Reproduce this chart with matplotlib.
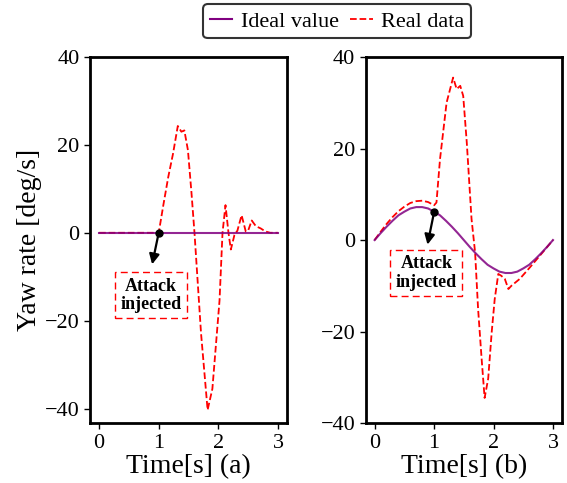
import matplotlib
matplotlib.use('Agg')
import matplotlib.pyplot as plt
from matplotlib.lines import Line2D

plt.rcParams['font.family'] = ['Liberation Serif', 'DejaVu Serif']
plt.rcParams['axes.linewidth'] = 2

# (a) constant reference, attack at t=1 s
a_t_ideal = [0, 3]
a_ideal = [0, 0]
a_t_real = [0, 1.0, 1.08, 1.16, 1.24, 1.32, 1.38, 1.43, 1.49, 1.55, 1.6, 1.71, 1.82, 1.9,
            2.02, 2.07, 2.12, 2.17, 2.21, 2.27, 2.32, 2.39, 2.46, 2.5, 2.56, 2.63, 2.71,
            2.79, 2.87, 3.0]
a_real = [0, 0, 6.5, 12.7, 18.0, 24.3, 23.0, 23.3, 18.8, 9.0, 0, -22.9, -40.3, -35.5,
          -15.4, 0, 6.3, 0, -3.8, -0.5, 0.5, 4.0, 0.3, 0.5, 2.8, 1.5, 1.0, 0.3, 0, 0]

# (b) sinusoidal reference
b_t_ideal = [0, 0.1, 0.2, 0.3, 0.4, 0.5, 0.6, 0.7, 0.8, 0.9, 1.0, 1.1, 1.2, 1.3, 1.4, 1.5,
             1.6, 1.7, 1.8, 1.9, 2.0, 2.1, 2.2, 2.3, 2.4, 2.5, 2.6, 2.7, 2.8, 2.9, 3.0]
b_ideal = [0, 1.5, 2.9, 4.2, 5.4, 6.2, 6.9, 7.2, 7.2, 6.9, 6.2, 5.4, 4.2, 2.9, 1.5, 0,
           -1.5, -2.9, -4.2, -5.4, -6.2, -6.9, -7.2, -7.2, -6.9, -6.2, -5.4, -4.2, -2.9,
           -1.5, 0]
b_t_real = [0, 0.1, 0.2, 0.3, 0.4, 0.5, 0.6, 0.7, 0.8, 0.9, 1.0, 1.04, 1.1, 1.21, 1.32,
            1.38, 1.44, 1.49, 1.55, 1.63, 1.69, 1.74, 1.80, 1.85, 1.91, 1.97, 2.02, 2.08,
            2.13, 2.19, 2.25, 2.30, 2.44, 2.61, 2.78, 3.0]
b_real = [0, 1.8, 3.5, 5.0, 6.3, 7.3, 8.1, 8.5, 8.6, 8.3, 7.6, 8.2, 17.7, 30.0, 35.5,
          33.0, 33.7, 31.5, 21.3, 4.6, -2.7, -15.0, -26.0, -34.5, -30.3, -20.0, -12.9,
          -7.4, -7.8, -8.5, -10.7, -10.0, -8.5, -6.0, -3.4, 0]

# annotation: (attack point, arrow end, text centre)
a_note = [(1.0, 0.0), (0.88, -7.8), (0.87, -14.2)]
b_note = [(1.0, 6.1), (0.88, -1.6), (0.87, -7.2)]

ideal_c = 'purple'
real_c = 'red'


def draw_panel(ax, t_i, y_i, t_r, y_r, note, xlab, ylim):
    ax.plot(t_r, y_r, color=real_c, ls='--', lw=1.3, zorder=2)
    ax.plot(t_i, y_i, color=ideal_c, lw=1.5, alpha=0.85, zorder=3)
    ax.plot(*note[0], 'o', color='k', ms=5, zorder=4)
    ax.annotate('', xy=note[1], xytext=note[0],
                arrowprops=dict(arrowstyle='-|>', color='k', lw=1.6, mutation_scale=15))
    ax.text(note[2][0], note[2][1], 'Attack\ninjected', ha='center', va='center',
            fontsize=13, fontweight='bold', linespacing=1.1,
            bbox=dict(boxstyle='square,pad=0.3', fc='white', ec=real_c,
                      ls=(0, (5, 3)), lw=1))
    ax.set_ylim(ylim)
    ax.set_yticks([-40, -20, 0, 20, 40])
    ax.set_xticks([0, 1, 2, 3])
    ax.tick_params(labelsize=16, width=1, length=4)
    ax.set_xlabel(xlab, fontsize=20, labelpad=1)


fig = plt.figure(figsize=(5.67, 4.83), dpi=100)
ax1 = fig.add_axes([0.159, 0.124, 0.347, 0.758])
ax2 = fig.add_axes([0.645, 0.124, 0.346, 0.758])

draw_panel(ax1, a_t_ideal, a_ideal, a_t_real, a_real, a_note, 'Time[s] (a)', (-43.3, 40))
draw_panel(ax2, b_t_ideal, b_ideal, b_t_real, b_real, b_note, 'Time[s] (b)', (-40, 40))
ax1.set_ylabel('Yaw rate [deg/s]', fontsize=20, labelpad=2)

handles = [Line2D([], [], color=ideal_c, lw=1.5),
           Line2D([], [], color=real_c, lw=1.3, ls='--')]
leg = fig.legend(handles, ['Ideal value', 'Real data'], loc='upper center',
                 bbox_to_anchor=(0.595, 1.0), ncol=2, fontsize=16, handlelength=1.0,
                 handletextpad=0.4, columnspacing=0.5, borderpad=0.3, borderaxespad=0.2,
                 fancybox=True, framealpha=1)
leg.get_frame().set_edgecolor('#333333')
leg.get_frame().set_linewidth(1.5)

fig.savefig('out.png', dpi=100)
